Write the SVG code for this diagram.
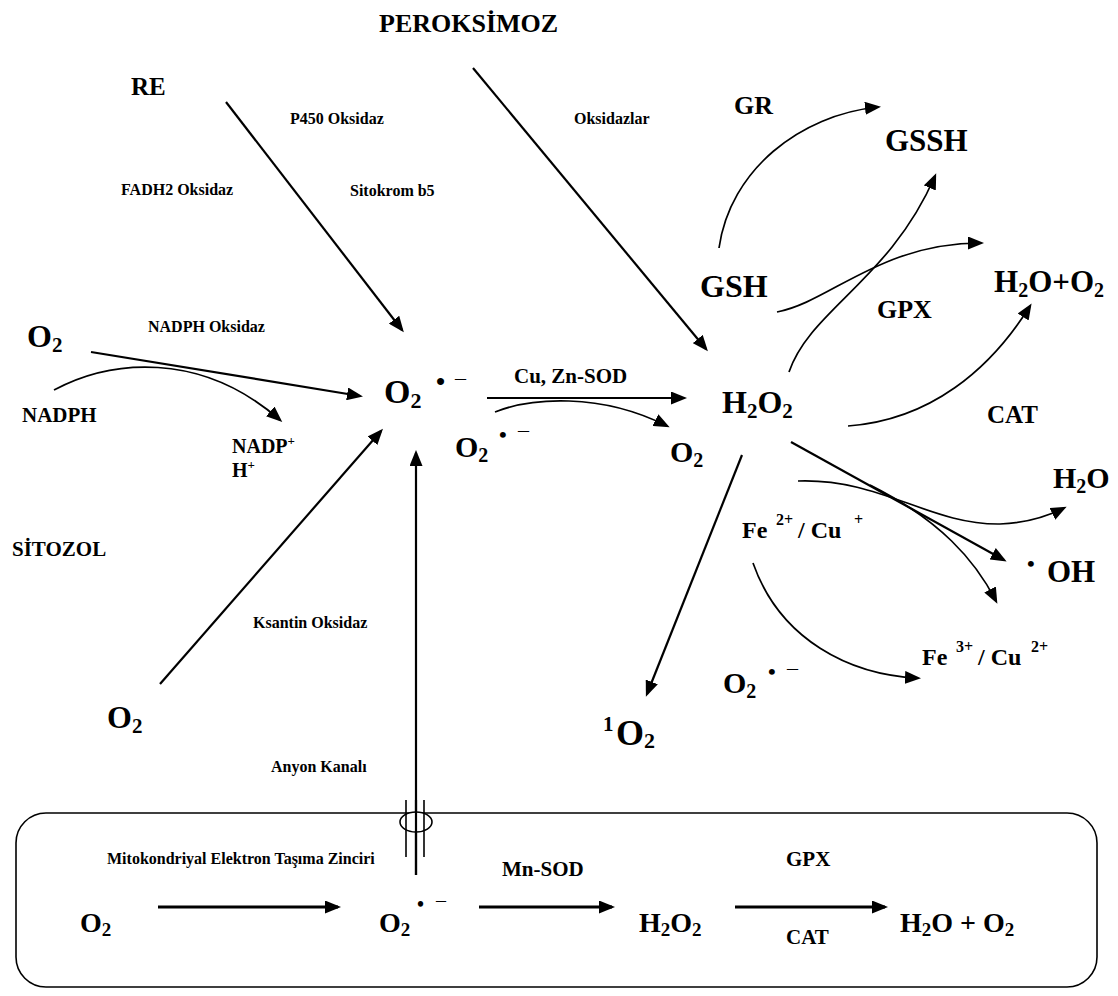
<svg xmlns="http://www.w3.org/2000/svg" width="1118" height="996" viewBox="0 0 1118 996">
<defs>
<style>
text{font-family:"Liberation Serif","Times New Roman",serif;font-weight:bold;fill:#000}
.s16{font-size:16px}
.s21{font-size:21px}
.s26{font-size:26px}
.s31{font-size:31px}
.ln{fill:none;stroke:#000;stroke-width:2.2}
.cv{fill:none;stroke:#000;stroke-width:1.7}
.bt{fill:none;stroke:#000;stroke-width:3}
</style>
<marker id="ah" viewBox="0 0 16 13" refX="13" refY="6.5" markerWidth="16" markerHeight="13" markerUnits="userSpaceOnUse" orient="auto">
<path d="M0,0 L16,6.5 L0,13 z" fill="#000"/>
</marker>
</defs>
<rect width="1118" height="996" fill="#fff"/>

<g id="mitokondri">
<rect x="16" y="813" width="1081" height="174" rx="30" ry="30" fill="none" stroke="#000" stroke-width="1.6"/>
</g>

<g id="connectors">
<line class="ln" x1="226" y1="102" x2="402" y2="330" marker-end="url(#ah)"/>
<line class="ln" x1="473" y1="68" x2="706" y2="349" marker-end="url(#ah)"/>
<line class="ln" x1="91" y1="352" x2="360" y2="396" marker-end="url(#ah)"/>
<path class="cv" d="M54,390 C110,360 200,350 280,420" marker-end="url(#ah)"/>
<line class="ln" x1="160" y1="684" x2="381" y2="431" marker-end="url(#ah)"/>
<line class="ln" x1="416" y1="875" x2="416" y2="453" marker-end="url(#ah)"/>
<line class="ln" x1="487" y1="398" x2="684" y2="398" marker-end="url(#ah)"/>
<path class="cv" d="M495,412 C530,398 600,392 667,426" marker-end="url(#ah)"/>
<path class="cv" d="M719,248 C730,170 800,115 878,107" marker-end="url(#ah)"/>
<path class="cv" d="M777,312 C830,302 880,243 981,243" marker-end="url(#ah)"/>
<path class="cv" d="M789,372 C810,310 890,280 935,176" marker-end="url(#ah)"/>
<path class="cv" d="M848,426 C930,420 990,370 1030,306" marker-end="url(#ah)"/>
<line class="ln" x1="791" y1="442" x2="1004" y2="560" marker-end="url(#ah)"/>
<path class="cv" d="M798,481 C880,478 930,525 1000,524 C1030,523 1050,515 1064,508" marker-end="url(#ah)"/>
<path class="cv" d="M870,485 C940,520 975,560 996,601" marker-end="url(#ah)"/>
<line class="ln" x1="742" y1="455" x2="647" y2="694" marker-end="url(#ah)"/>
<path class="cv" d="M753,563 C780,640 850,675 918,678" marker-end="url(#ah)"/>
<line class="bt" x1="158" y1="907" x2="338" y2="907" marker-end="url(#ah)"/>
<line class="bt" x1="479" y1="907" x2="612" y2="907" marker-end="url(#ah)"/>
<line class="bt" x1="735" y1="907" x2="885" y2="907" marker-end="url(#ah)"/>
</g>

<g id="anyon-kanali">
<ellipse cx="416" cy="822" rx="16" ry="10" fill="#fff" stroke="#000" stroke-width="1.6"/>
<line x1="416" y1="800" x2="416" y2="875" stroke="#000" stroke-width="2.2"/>
<line x1="406" y1="800" x2="406" y2="857" stroke="#000" stroke-width="1.6"/>
<line x1="424" y1="800" x2="424" y2="857" stroke="#000" stroke-width="1.6"/>
</g>

<g id="peroksimoz"><text x="379" y="32" font-size="26">PEROKSİMOZ</text></g>
<g id="re"><text x="131" y="95" font-size="25">RE</text></g>
<g id="p450"><text class="s16" x="290" y="124">P450 Oksidaz</text></g>
<g id="oksidazlar"><text class="s16" x="574" y="124">Oksidazlar</text></g>
<g id="fadh2"><text class="s16" x="121" y="195">FADH2 Oksidaz</text></g>
<g id="sitokrom"><text class="s16" x="350" y="196">Sitokrom b5</text></g>

<g id="gr"><text class="s26" x="734" y="114">GR</text></g>
<g id="gssh"><text class="s31" x="885" y="151">GSSH</text></g>
<g id="gsh"><text x="700" y="297" font-size="32">GSH</text></g>
<g id="h2o-o2-top"><text class="s31" x="994" y="292">H<tspan font-size="20" dy="5">2</tspan><tspan dy="-5">O+O</tspan><tspan font-size="20" dy="5">2</tspan></text></g>
<g id="gpx-top"><text class="s26" x="877" y="318">GPX</text></g>
<g id="cat-top"><text x="987" y="423" font-size="25">CAT</text></g>

<g id="o2-left"><text x="27" y="347" font-size="32">O<tspan font-size="21" dy="5">2</tspan></text></g>
<g id="nadph-oksidaz"><text class="s16" x="148" y="332">NADPH Oksidaz</text></g>
<g id="nadph"><text class="s21" x="22" y="422">NADPH</text></g>
<g id="nadp"><text x="232" y="453" font-size="20">NADP<tspan font-size="13" dy="-8">+</tspan></text>
<text x="232" y="477" font-size="20">H<tspan font-size="13" dy="-8">+</tspan></text></g>

<g id="superoksit"><text x="384" y="403" font-size="34">O<tspan font-size="22" dy="5">2</tspan><tspan x="436" y="390" font-size="26">•</tspan><tspan x="455" y="385" font-size="22" font-weight="normal">–</tspan></text></g>
<g id="cuznsod"><text class="s21" x="514" y="383">Cu, Zn-SOD</text></g>
<g id="superoksit2"><text x="455" y="457" font-size="30">O<tspan font-size="20" dy="5">2</tspan><tspan x="499" y="442" font-size="22">•</tspan><tspan x="518" y="437" font-size="22" font-weight="normal">–</tspan></text></g>
<g id="o2-sod"><text x="670" y="462" font-size="30">O<tspan font-size="20" dy="5">2</tspan></text></g>
<g id="h2o2"><text x="722" y="413" font-size="32">H<tspan font-size="21" dy="5">2</tspan><tspan dy="-5">O</tspan><tspan font-size="21" dy="5">2</tspan></text></g>

<g id="h2o"><text x="1053" y="488" font-size="30">H<tspan font-size="20" dy="5">2</tspan><tspan dy="-5">O</tspan></text></g>
<g id="oh"><text x="1027" y="571" font-size="22">•<tspan x="1047" y="582" font-size="31">OH</tspan></text></g>
<g id="fe2"><text x="742" y="538" font-size="24">Fe <tspan x="776" y="525" font-size="16">2+</tspan><tspan x="792" y="538"> / Cu </tspan><tspan x="854" y="525" font-size="16">+</tspan></text></g>
<g id="fe3"><text x="922" y="665" font-size="24">Fe <tspan x="956" y="652" font-size="16">3+</tspan><tspan x="972" y="665"> / Cu </tspan><tspan x="1031" y="652" font-size="16">2+</tspan></text></g>
<g id="superoksit3"><text x="723" y="693" font-size="30">O<tspan font-size="20" dy="5">2</tspan><tspan x="768" y="679" font-size="22">•</tspan><tspan x="787" y="675" font-size="22" font-weight="normal">–</tspan></text></g>
<g id="singlet-o2"><text x="603" y="731" font-size="21">1<tspan x="616" y="745" font-size="36">O</tspan><tspan font-size="22" dy="3">2</tspan></text></g>

<g id="sitozol"><text class="s21" x="12" y="556">SİTOZOL</text></g>
<g id="ksantin"><text class="s16" x="253" y="628">Ksantin Oksidaz</text></g>
<g id="o2-bottomleft"><text x="107" y="728" font-size="32">O<tspan font-size="21" dy="5">2</tspan></text></g>
<g id="anyon"><text class="s16" x="271" y="772">Anyon Kanalı</text></g>

<g id="mito-label"><text class="s16" x="107" y="864">Mitokondriyal Elektron Taşıma Zinciri</text></g>
<g id="m-o2"><text x="80" y="932" font-size="28">O<tspan font-size="19" dy="4">2</tspan></text></g>
<g id="m-superoksit"><text x="379" y="932" font-size="28">O<tspan font-size="19" dy="4">2</tspan><tspan x="417" y="911" font-size="20">•</tspan><tspan x="436" y="907" font-size="20" font-weight="normal">–</tspan></text></g>
<g id="m-mnsod"><text class="s21" x="502" y="876">Mn-SOD</text></g>
<g id="m-h2o2"><text x="639" y="932" font-size="28">H<tspan font-size="19" dy="4">2</tspan><tspan dy="-4">O</tspan><tspan font-size="19" dy="4">2</tspan></text></g>
<g id="m-gpx"><text x="786" y="866" font-size="21">GPX</text></g>
<g id="m-cat"><text x="786" y="944" font-size="21">CAT</text></g>
<g id="m-h2o-o2"><text x="900" y="932" font-size="28">H<tspan font-size="19" dy="4">2</tspan><tspan dy="-4">O + O</tspan><tspan font-size="19" dy="4">2</tspan></text></g>
</svg>
